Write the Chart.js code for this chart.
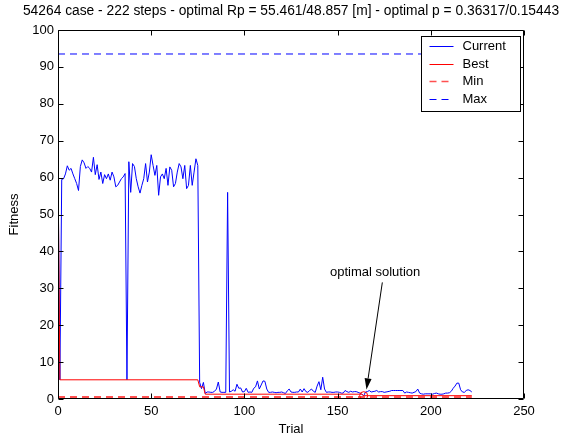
<!DOCTYPE html>
<html><head><meta charset="utf-8">
<script src="https://cdn.jsdelivr.net/npm/chart.js@4"></script>
<style>html,body{margin:0;padding:0;background:#fff}canvas{display:block}</style>
</head><body>
<canvas id="c" width="567" height="436"></canvas>
<script>
const TITLE = "54264 case - 222 steps - optimal Rp = 55.461/48.857 [m] - optimal p = 0.36317/0.15443";
const X_LABEL = "Trial";
const Y_LABEL = "Fitness";
const xTicks = [0, 50, 100, 150, 200, 250];
const yTicks = [0, 10, 20, 30, 40, 50, 60, 70, 80, 90, 100];
const seriesLabels = ["Current", "Best", "Min", "Max"];

const currentValues = [
  64, 5.2, 59.5, 59.7, 61, 63.2, 62, 62.5, 61, 59.7,
  58.4, 56.5, 63, 64.8, 64, 62.5, 63, 62.5, 61.5, 65.5,
  60.8, 63.5, 59.5, 61.5, 58.4, 60.8, 59.7, 61, 59.3, 61.5,
  60.2, 57.5, 57.9, 58.8, 59.7, 60.2, 61.1, 5.2, 64.3, 56,
  63.8, 63, 59.7, 57.5, 55.8, 57.9, 59.7, 63.8, 58.8, 61.5,
  66.2, 63.3, 60.6, 63.3, 55.2, 60.2, 61, 59.7, 62.5, 57.9,
  62.9, 62, 57.5, 58.4, 61.5, 63.8, 62.9, 59.7, 63.3, 57,
  57.9, 63.3, 57.9, 61.5, 65.1, 63.3, 4.5, 2.8, 4.5, 1.5,
  1.9, 1.9, 1.8, 1.8, 2.1, 2.7, 4.6, 1.9, 1.8, 1.8,
  1.8, 56, 1.9, 2.1, 2.5, 2.1, 4.0, 2.9, 3.0, 1.9,
  2.0, 2.9, 1.8, 1.9, 1.8, 2.9, 3.3, 4.9, 2.7, 3.8,
  4.9, 4.8, 2.7, 1.8, 1.8, 1.9, 1.8, 1.7, 1.8, 1.8,
  1.9, 1.7, 1.5, 2.2, 2.7, 1.9, 1.8, 1.8, 1.9, 1.9,
  2.7, 1.9, 2.8, 2.0, 1.8, 2.3, 2.7, 2.1, 1.8, 3.5,
  4.7, 2.5, 5.9, 2.7, 1.8, 1.9, 1.9, 1.8, 1.8, 1.9,
  1.9, 1.8, 1.6, 1.6, 2.3, 2.0, 1.8, 2.1, 1.9, 2.0,
  2.0, 1.8, 1.6, 1.3, 0.9, 1.9, 2.0, 2.3, 1.9, 2.0,
  2.1, 2.3, 1.9, 2.0, 2.0, 1.8, 1.9, 2.0, 2.1, 2.3,
  2.3, 2.3, 2.3, 2.3, 2.3, 2.3, 1.6, 1.9, 1.8, 1.7,
  1.6, 1.8, 2.0, 2.7, 1.6, 1.4, 1.3, 1.4, 1.4, 1.4,
  1.4, 1.3, 1.5, 1.6, 1.4, 1.3, 1.3, 1.4, 1.6, 1.6,
  1.7, 2.1, 2.9, 3.5, 4.3, 4.3, 2.5, 1.9, 1.8, 2.3,
  2.5, 2.3, 1.9
];
const trials = currentValues.map((_, i) => i);

const bestTrials = [0, 1, 75, 76, 78, 79, 163, 164, 222];
const bestValues = [64, 5.2, 5.2, 3.3, 3.3, 1.3, 1.3, 0.9, 0.9];

const minTrials = [0, 222];
const minValues = [0.45, 0.45];

const maxTrials = [0, 222];
const maxValues = [93.5, 93.5];

const optimalTrial = [164];
const optimalValue = [0.9];

const annotationText = "optimal solution";
const annotationTextAt = [145.9, 34.3];
const arrowFrom = [174, 31.6];
const arrowTo = [165.5, 2.6];

const FONT = '"Liberation Sans", Arial, Helvetica, sans-serif';
Chart.defaults.font.family = FONT;
Chart.defaults.font.size = 13;
Chart.defaults.color = '#000';

const pts = (xs, ys) => xs.map((x, i) => ({x: x, y: ys[i]}));

const titlePlugin = {
  id: 'centeredTitle',
  afterDraw(chart) {
    const {ctx, chartArea: a} = chart;
    ctx.save();
    ctx.font = '13.8px ' + FONT;
    ctx.fillStyle = '#000';
    ctx.textAlign = 'center';
    ctx.textBaseline = 'middle';
    ctx.fillText(TITLE, (a.left + a.right) / 2, 11.5);
    ctx.restore();
  }
};

const axesBoxPlugin = {
  id: 'axesBox',
  afterDatasetsDraw(chart) {
    const {ctx, chartArea: a, scales: {x, y}} = chart;
    const L = Math.round(a.left) + 0.5, R = Math.round(a.right) - 0.5;
    const T = Math.round(a.top) + 0.5, B = Math.round(a.bottom) - 0.5;
    ctx.save();
    ctx.strokeStyle = '#000';
    ctx.lineWidth = 1;
    ctx.beginPath();
    ctx.rect(L, T, R - L, B - T);
    const tl = 5;
    xTicks.forEach(v => {
      const px = Math.round(x.getPixelForValue(v)) + 0.5;
      ctx.moveTo(px, B); ctx.lineTo(px, B - tl);
      ctx.moveTo(px, T); ctx.lineTo(px, T + tl);
    });
    yTicks.forEach(v => {
      const py = Math.round(y.getPixelForValue(v)) + 0.5;
      ctx.moveTo(L, py); ctx.lineTo(L + tl, py);
      ctx.moveTo(R, py); ctx.lineTo(R - tl, py);
    });
    ctx.stroke();
    ctx.restore();
  }
};

const annotationPlugin = {
  id: 'annot',
  afterDatasetsDraw(chart) {
    const {ctx, scales: {x, y}} = chart;
    ctx.save();
    ctx.font = '13px ' + FONT;
    ctx.fillStyle = '#000';
    ctx.textBaseline = 'middle';
    ctx.textAlign = 'left';
    ctx.fillText(annotationText, x.getPixelForValue(annotationTextAt[0]), y.getPixelForValue(annotationTextAt[1]));
    const x1 = x.getPixelForValue(arrowFrom[0]), y1 = y.getPixelForValue(arrowFrom[1]);
    const x2 = x.getPixelForValue(arrowTo[0]), y2 = y.getPixelForValue(arrowTo[1]);
    const ang = Math.atan2(y2 - y1, x2 - x1);
    const hl = 11, hw = 3.5;
    const bx = x2 - hl * Math.cos(ang), by = y2 - hl * Math.sin(ang);
    ctx.strokeStyle = '#000';
    ctx.lineWidth = 1;
    ctx.beginPath();
    ctx.moveTo(x1, y1); ctx.lineTo(bx, by);
    ctx.stroke();
    ctx.beginPath();
    ctx.moveTo(x2, y2);
    ctx.lineTo(bx + hw * Math.sin(ang), by - hw * Math.cos(ang));
    ctx.lineTo(bx - hw * Math.sin(ang), by + hw * Math.cos(ang));
    ctx.closePath();
    ctx.fillStyle = '#000';
    ctx.fill();
    ctx.restore();
  }
};

const legendPlugin = {
  id: 'boxLegend',
  afterDraw(chart) {
    const {ctx, chartArea: a} = chart;
    const w = 99, h = 75;
    const bx = Math.round(a.right) - 3.5 - w, by = Math.round(a.top) + 6.5;
    ctx.save();
    ctx.fillStyle = '#fff';
    ctx.fillRect(bx, by, w, h);
    ctx.strokeStyle = '#000';
    ctx.lineWidth = 1;
    ctx.strokeRect(bx, by, w, h);
    ctx.font = '13px ' + FONT;
    ctx.textBaseline = 'middle';
    ctx.textAlign = 'left';
    seriesLabels.forEach((lab, i) => {
      const ds = chart.data.datasets[i];
      const ry = Math.round(by + 9.5 + i * 17.6) + 0.5;
      ctx.strokeStyle = ds.borderColor;
      ctx.lineWidth = ds.borderWidth > 1 ? 1.5 : 1;
      ctx.setLineDash(ds.borderDash || []);
      ctx.beginPath();
      ctx.moveTo(bx + 8, ry); ctx.lineTo(bx + 32, ry);
      ctx.stroke();
      ctx.setLineDash([]);
      ctx.fillStyle = '#000';
      ctx.fillText(lab, bx + 41, ry);
    });
    ctx.restore();
  }
};

new Chart(document.getElementById('c'), {
  type: 'line',
  data: {
    datasets: [
      {label: seriesLabels[0], data: pts(trials, currentValues), borderColor: '#0000ff', borderWidth: 1, pointRadius: 0, tension: 0, order: 4},
      {label: seriesLabels[1], data: pts(bestTrials, bestValues), borderColor: '#ff0000', borderWidth: 1, pointRadius: 0, tension: 0, order: 3},
      {label: seriesLabels[2], data: pts(minTrials, minValues), borderColor: '#ff5050', borderWidth: 2.5, borderDash: [7, 5], pointRadius: 0, order: 2},
      {label: seriesLabels[3], data: pts(maxTrials, maxValues), borderColor: '#0000ff', borderWidth: 1, borderDash: [7, 5], pointRadius: 0, order: 1},
      {label: 'Optimal', data: pts(optimalTrial, optimalValue), showLine: false, pointRadius: 4, pointBorderColor: '#ff0000', pointBackgroundColor: 'rgba(0,0,0,0)', pointBorderWidth: 1, order: 0}
    ]
  },
  options: {
    responsive: false,
    animation: false,
    devicePixelRatio: 1,
    layout: {padding: {left: 0, right: 43, top: 30, bottom: 0}},
    plugins: {
      legend: {display: false},
      tooltip: {enabled: false},
      title: {display: false}
    },
    scales: {
      x: {
        type: 'linear', min: 0, max: 250,
        afterBuildTicks: s => { s.ticks = xTicks.map(v => ({value: v})); },
        grid: {display: false, drawTicks: false},
        border: {display: false},
        ticks: {padding: 5, maxRotation: 0, autoSkip: false, color: '#000'},
        title: {display: true, text: X_LABEL, color: '#000', font: {lineHeight: 1.0}, padding: {top: 0, bottom: 0}},
        afterFit: s => { s.height = 37; }
      },
      y: {
        type: 'linear', min: 0, max: 100,
        afterBuildTicks: s => { s.ticks = yTicks.map(v => ({value: v})); },
        grid: {display: false, drawTicks: false},
        border: {display: false},
        ticks: {padding: 4, autoSkip: false, color: '#000'},
        title: {display: true, text: Y_LABEL, color: '#000', padding: {top: 7, bottom: 0}},
        afterFit: s => { s.width = 58; }
      }
    }
  },
  plugins: [axesBoxPlugin, annotationPlugin, legendPlugin, titlePlugin]
});
</script>
</body></html>
